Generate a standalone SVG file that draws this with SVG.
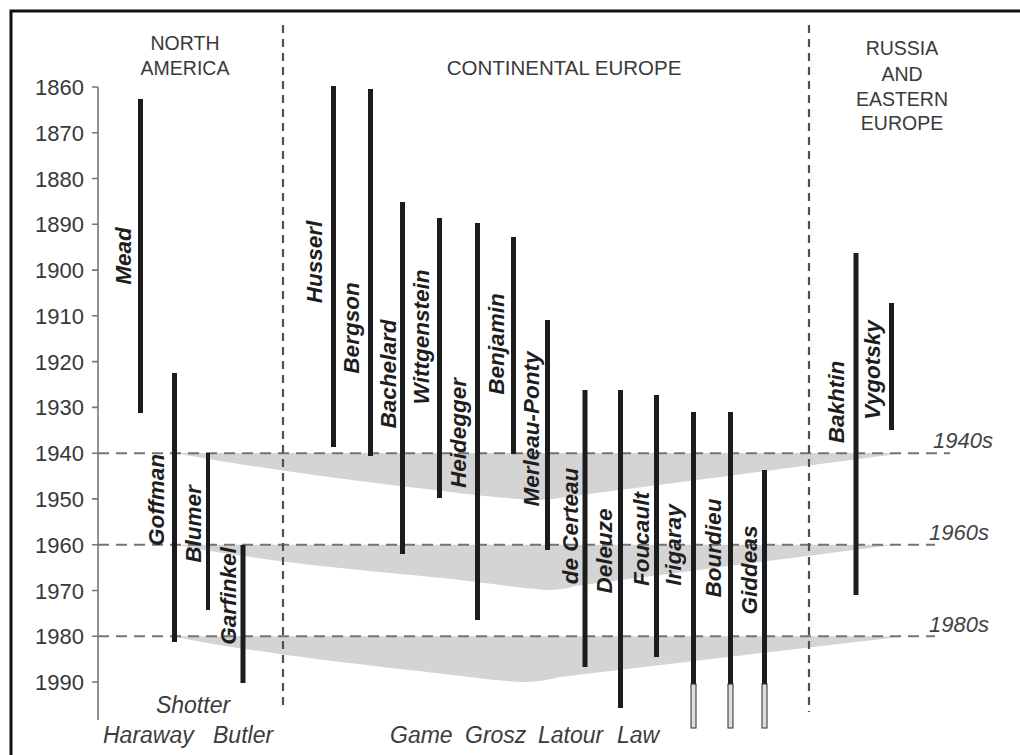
<svg xmlns="http://www.w3.org/2000/svg" width="1020" height="755" viewBox="0 0 1020 755">
<style>
  text { font-family: "Liberation Sans", Arial, sans-serif; }
  .yr { font-size: 22px; fill: #383838; text-anchor: end; }
  .hd { font-size: 19.5px; fill: #3a3a3a; text-anchor: middle; }
  .nm { font-size: 22.5px; font-weight: bold; font-style: italic; fill: #1e1e1e; text-anchor: middle; }
  .bn { font-size: 23px; font-style: italic; fill: #3c3c3c; }
  .dec { font-size: 22px; font-style: italic; fill: #444; }
  .bar { stroke: #1c1c1c; stroke-width: 5; fill: none; }
  .tail { fill: #dedede; stroke: #2a2a2a; stroke-width: 1; }
  .band { fill: #d4d4d4; stroke: none; }
  .hdash { stroke: #747474; stroke-width: 2; stroke-dasharray: 11 7; fill: none; }
  .vdash { stroke: #505050; stroke-width: 2.2; stroke-dasharray: 8 6; fill: none; }
  .axis { stroke: #777; stroke-width: 1.6; fill: none; }
</style>
<rect x="0" y="0" width="1020" height="755" fill="#fff"/>
<rect x="11" y="11" width="1030" height="770" fill="none" stroke="#111" stroke-width="3"/>

<g id="bands">
  <path class="band" d="M176,453 C215,461 300,474 400,486 S500,498 538,500 Q552,500 566,497 L905,453 Z"/>
  <path class="band" d="M178,544.7 C215,553 300,565 400,574 S510,588 550,590 Q563,590 575,586 L895,544.7 Z"/>
  <path class="band" d="M173,636.2 C212,645 300,658 400,669 S495,681 525,682 Q540,682 560,677 L905,636.2 Z"/>
</g>

<g id="axis">
  <line class="axis" x1="98" y1="87" x2="98" y2="720"/>
  <path class="axis" d="M92,87H98 M92,132.8H98 M92,178.5H98 M92,224.3H98 M92,270.1H98 M92,315.7H98 M92,361.6H98 M92,407.4H98 M92,453.2H98 M92,498.9H98 M92,544.7H98 M92,590.5H98 M92,636.2H98 M92,682H98"/>
  <text class="yr" x="84" y="95">1860</text>
  <text class="yr" x="84" y="140.8">1870</text>
  <text class="yr" x="84" y="186.5">1880</text>
  <text class="yr" x="84" y="232.3">1890</text>
  <text class="yr" x="84" y="278.1">1900</text>
  <text class="yr" x="84" y="323.7">1910</text>
  <text class="yr" x="84" y="369.6">1920</text>
  <text class="yr" x="84" y="415.4">1930</text>
  <text class="yr" x="84" y="461.2">1940</text>
  <text class="yr" x="84" y="506.9">1950</text>
  <text class="yr" x="84" y="552.7">1960</text>
  <text class="yr" x="84" y="598.5">1970</text>
  <text class="yr" x="84" y="644.2">1980</text>
  <text class="yr" x="84" y="690">1990</text>
</g>

<g id="guides">
  <line class="hdash" x1="98" y1="453.2" x2="950" y2="453.2"/>
  <line class="hdash" x1="98" y1="544.7" x2="935" y2="544.7"/>
  <line class="hdash" x1="98" y1="636.2" x2="935" y2="636.2"/>
  <line class="vdash" x1="283" y1="25" x2="283" y2="710"/>
  <line class="vdash" x1="809" y1="25" x2="809" y2="712"/>
  <text class="dec" x="933" y="448">1940s</text>
  <text class="dec" x="929" y="540">1960s</text>
  <text class="dec" x="929" y="632">1980s</text>
</g>

<g id="headers">
  <text class="hd" x="185" y="50">NORTH</text>
  <text class="hd" x="185" y="75">AMERICA</text>
  <text class="hd" x="564" y="75" style="font-size:20.5px">CONTINENTAL EUROPE</text>
  <text class="hd" x="902" y="55">RUSSIA</text>
  <text class="hd" x="902" y="81">AND</text>
  <text class="hd" x="902" y="106">EASTERN</text>
  <text class="hd" x="902" y="130">EUROPE</text>
</g>

<g id="mead"><line class="bar" x1="140.5" y1="99" x2="140.5" y2="413"/><text class="nm" transform="translate(131,256) rotate(-90)">Mead</text></g>
<g id="goffman"><line class="bar" x1="174.5" y1="373" x2="174.5" y2="642"/><text class="nm" transform="translate(164,500) rotate(-90)">Goffman</text></g>
<g id="blumer"><line class="bar" x1="208" y1="453" x2="208" y2="610" style="stroke-width:4"/><text class="nm" transform="translate(201,524) rotate(-90)">Blumer</text></g>
<g id="garfinkel"><line class="bar" x1="243" y1="545" x2="243" y2="683"/><text class="nm" transform="translate(236,596) rotate(-90)">Garfinkel</text></g>
<g id="husserl"><line class="bar" x1="333.5" y1="86" x2="333.5" y2="447"/><text class="nm" transform="translate(322,262) rotate(-90)">Husserl</text></g>
<g id="bergson"><line class="bar" x1="370.5" y1="89" x2="370.5" y2="456"/><text class="nm" transform="translate(359,328) rotate(-90)">Bergson</text></g>
<g id="bachelard"><line class="bar" x1="402.5" y1="202" x2="402.5" y2="554"/><text class="nm" transform="translate(396,374) rotate(-90)">Bachelard</text></g>
<g id="wittgenstein"><line class="bar" x1="439.5" y1="218" x2="439.5" y2="498"/><text class="nm" transform="translate(429,337) rotate(-90)">Wittgenstein</text></g>
<g id="heidegger"><line class="bar" x1="477.5" y1="223" x2="477.5" y2="620"/><text class="nm" transform="translate(466,433) rotate(-90)">Heidegger</text></g>
<g id="benjamin"><line class="bar" x1="513.5" y1="237" x2="513.5" y2="454"/><text class="nm" transform="translate(504,344) rotate(-90)">Benjamin</text></g>
<g id="merleau-ponty"><line class="bar" x1="547.5" y1="320" x2="547.5" y2="550"/><text class="nm" transform="translate(539,429) rotate(-90)">Merleau-Ponty</text></g>
<g id="de-certeau"><line class="bar" x1="585" y1="390" x2="585" y2="667"/><text class="nm" transform="translate(578,526) rotate(-90)">de Certeau</text></g>
<g id="deleuze"><line class="bar" x1="620.5" y1="390" x2="620.5" y2="708"/><text class="nm" transform="translate(612,551) rotate(-90)">Deleuze</text></g>
<g id="foucault"><line class="bar" x1="656.5" y1="395" x2="656.5" y2="657"/><text class="nm" transform="translate(649,539) rotate(-90)">Foucault</text></g>
<g id="irigaray"><line class="bar" x1="693.5" y1="412" x2="693.5" y2="684"/><rect class="tail" x="691" y="684" width="5" height="44"/><text class="nm" transform="translate(681,545) rotate(-90)">Irigaray</text></g>
<g id="bourdieu"><line class="bar" x1="730.5" y1="412" x2="730.5" y2="684"/><rect class="tail" x="728" y="684" width="5" height="44"/><text class="nm" transform="translate(721,548) rotate(-90)">Bourdieu</text></g>
<g id="giddeas"><line class="bar" x1="764.5" y1="470" x2="764.5" y2="684"/><rect class="tail" x="762" y="684" width="5" height="44"/><text class="nm" transform="translate(757,570) rotate(-90)">Giddeas</text></g>
<g id="bakhtin"><line class="bar" x1="856" y1="253" x2="856" y2="595"/><text class="nm" transform="translate(844,402) rotate(-90)">Bakhtin</text></g>
<g id="vygotsky"><line class="bar" x1="891.5" y1="303" x2="891.5" y2="430"/><text class="nm" transform="translate(880,370) rotate(-90)">Vygotsky</text></g>

<g id="shotter"><text class="bn" x="193" y="713" text-anchor="middle">Shotter</text></g>
<g id="haraway"><text class="bn" x="103" y="743">Haraway</text></g>
<g id="butler"><text class="bn" x="213" y="743">Butler</text></g>
<g id="game"><text class="bn" x="390" y="743">Game</text></g>
<g id="grosz"><text class="bn" x="465" y="743">Grosz</text></g>
<g id="latour"><text class="bn" x="538" y="743">Latour</text></g>
<g id="law"><text class="bn" x="617" y="743">Law</text></g>
</svg>
